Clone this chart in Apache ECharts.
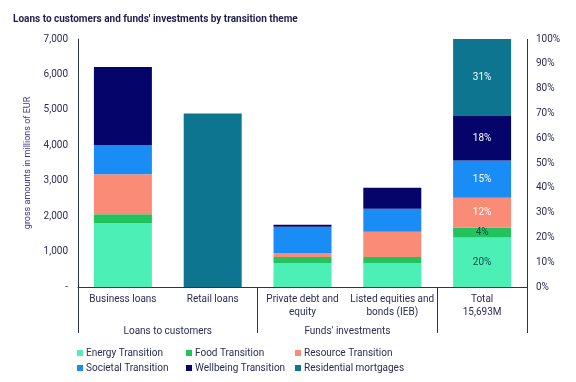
<!DOCTYPE html>
<html>
<head>
<meta charset="utf-8">
<script src="https://cdn.jsdelivr.net/npm/echarts@6/dist/echarts.min.js"></script>
<style>html,body{margin:0;padding:0;background:#fff}#c{width:576px;height:382px}</style>
</head>
<body>
<div id="c"></div>
<script>
const categories = ['Business loans', 'Retail loans', 'Private debt and\nequity', 'Listed equities and\nbonds (IEB)', 'Total\n15,693M'];
const groupLabels = ['Loans to customers', "Funds' investments"];
const themes = ['Energy Transition', 'Food Transition', 'Resource Transition', 'Societal Transition', 'Wellbeing Transition', 'Residential mortgages'];
const colors = ['#4cf0b6', '#22c35c', '#fa8c77', '#1a8cf5', '#04046b', '#0e7590'];
// values in millions of EUR for the first four categories
const energy      = [1800, 0, 680, 680];
const food        = [250, 0, 170, 170];
const resource    = [1130, 0, 110, 710];
const societal    = [830, 0, 740, 650];
const wellbeing   = [2200, 0, 60, 590];
const residential = [0, 4900, 0, 0];
// total bar shares in %
const totalShares = [20, 4, 12, 15, 18, 31];
const leftTicks = { min: 0, max: 7000, interval: 1000 };
const rightTicks = { min: 0, max: 100, interval: 10 };

const valueSets = [energy, food, resource, societal, wellbeing, residential];
const textColor = '#2b2d55';
const font = 'Roboto';

const series = [];
themes.forEach((name, i) => {
  series.push({
    name: name, type: 'bar', stack: 'amt', yAxisIndex: 0, barWidth: 58, barGap: '-100%',
    itemStyle: { color: colors[i] },
    data: valueSets[i].map(v => v === 0 ? '-' : v).concat(['-'])
  });
});
themes.forEach((name, i) => {
  series.push({
    name: name, type: 'bar', stack: 'pct', yAxisIndex: 1, barWidth: 58, barGap: '-100%',
    itemStyle: { color: colors[i] },
    label: { show: true, position: 'inside', formatter: '{c}%', fontFamily: font, fontSize: 10,
             color: (i <= 1) ? '#0b4a4a' : '#ffffff' },
    data: ['-', '-', '-', '-', totalShares[i]]
  });
});

const legendCols = [[0, 3], [1, 4], [2, 5]];
const legendLeft = [72, 181, 290];
const legends = legendCols.map((col, k) => ({
  orient: 'vertical', left: legendLeft[k], top: 343, itemWidth: 6, itemHeight: 6, itemGap: 5,
  icon: 'rect', data: col.map(j => themes[j]),
  textStyle: { color: textColor, fontFamily: font, fontSize: 10, padding: [0, 0, 0, -2] }
}));

const chart = echarts.init(document.getElementById('c'), null, { renderer: 'canvas' });
chart.setOption({
  animation: false,
  backgroundColor: '#ffffff',
  title: { text: "Loans to customers and funds' investments by transition theme", left: 8, top: 9,
           textStyle: { fontFamily: font, fontSize: 10, fontWeight: 'bold', color: '#1e1e4a' } },
  legend: legends,
  grid: { left: 78, right: 49, top: 39, bottom: 95 },
  xAxis: [{
    type: 'category', data: categories,
    axisLine: { lineStyle: { color: '#2a3550', width: 1 } },
    axisTick: { show: true, length: 46, inside: false, interval: (idx) => idx === 0 || idx === 2 || idx === 4,
                lineStyle: { color: '#2a3550' } },
    splitLine: { show: true, interval: (idx) => idx === 4, lineStyle: { color: '#2a3550', width: 1 } },
    axisLabel: { color: textColor, fontFamily: font, fontSize: 10, lineHeight: 13, margin: 6, interval: 0 }
  }, {
    type: 'value', min: 0, max: 5, interval: 1, position: 'bottom', offset: 31,
    axisLine: { show: false }, axisTick: { show: false }, splitLine: { show: false },
    axisLabel: { color: textColor, fontFamily: font, fontSize: 10,
                 formatter: v => v === 1 ? groupLabels[0] : (v === 3 ? groupLabels[1] : '') }
  }],
  yAxis: [{
    type: 'value', min: leftTicks.min, max: leftTicks.max, interval: leftTicks.interval,
    name: 'gross amounts in millions of EUR', nameLocation: 'middle', nameGap: 42, nameRotate: 90,
    nameTextStyle: { color: '#3a3a8c', fontFamily: font, fontSize: 9 },
    axisLine: { show: true, lineStyle: { color: '#2a3550' } }, axisTick: { show: false }, splitLine: { show: false },
    axisLabel: { color: textColor, fontFamily: font, fontSize: 10, margin: 10,
                 formatter: v => v === 0 ? '-' : v.toLocaleString('en-US') }
  }, {
    type: 'value', min: rightTicks.min, max: rightTicks.max, interval: rightTicks.interval, position: 'right',
    axisLine: { show: false }, axisTick: { show: false }, splitLine: { show: false },
    axisLabel: { color: textColor, fontFamily: font, fontSize: 10, margin: 9, formatter: '{value}%' }
  }],
  series: series
});
</script>
</body>
</html>
